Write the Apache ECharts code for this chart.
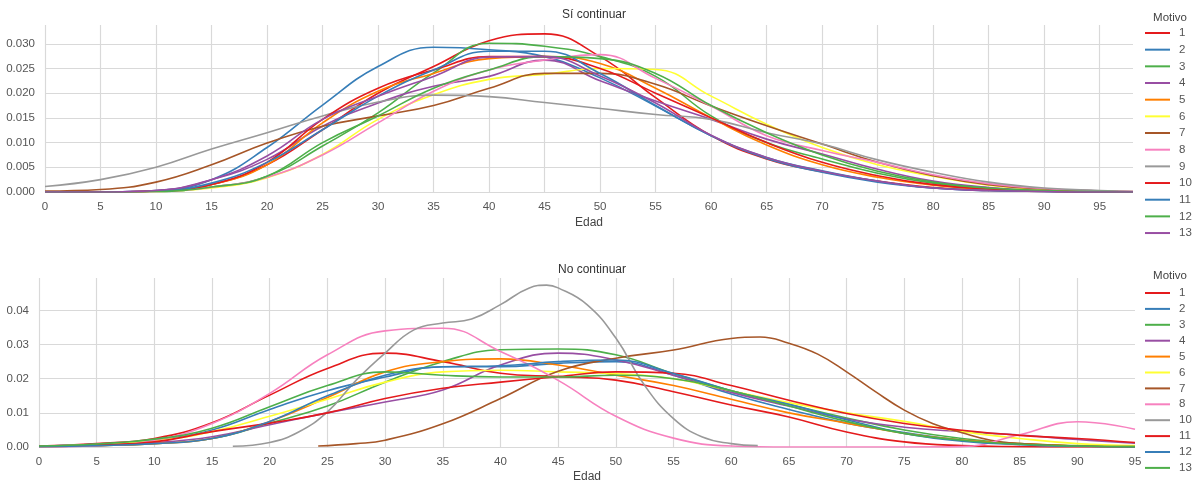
<!DOCTYPE html>
<html>
<head>
<meta charset="utf-8">
<title>Edad por motivo</title>
<script src="https://cdn.jsdelivr.net/npm/echarts@6/dist/echarts.min.js"></script>
<style>
  html, body { margin: 0; padding: 0; background: #fff; }
  #chart { width: 1193px; height: 487px; }
</style>
</head>
<body>
<div id="chart"></div>
<script>
// Set1 (seaborn)
const set1 = ['#e41a1c', '#377eb8', '#4daf4a', '#984ea3', '#ff7f00', '#ffff33', '#a65628', '#f781bf', '#999999'];

// ---- Sí continuar ----
const edadesSi = [0, 5, 10, 15, 20, 25, 30, 35, 40, 45, 50, 55, 60, 65, 70, 75, 80, 85, 90, 95, 98];
const motivosSi = ['1', '2', '3', '4', '5', '6', '7', '8', '9', '10', '11', '12', '13'];
const si1  = [0, 0, 0.0002, 0.0015, 0.0055, 0.0126, 0.0200, 0.0254, 0.0306, 0.0320, 0.0274, 0.0191, 0.0114, 0.0067, 0.0041, 0.0022, 0.0009, 0.0003, 0.0001, 0, 0];
const si2  = [0, 0, 0.0003, 0.0025, 0.0090, 0.0176, 0.0254, 0.0293, 0.0288, 0.0274, 0.0231, 0.0174, 0.0114, 0.0070, 0.0043, 0.0022, 0.0008, 0.0003, 0.0001, 0, 0];
const si3  = [0, 0, 0.0001, 0.0010, 0.0032, 0.0093, 0.0160, 0.0241, 0.0301, 0.0295, 0.0274, 0.0234, 0.0154, 0.0100, 0.0067, 0.0038, 0.0018, 0.0007, 0.0002, 0.0001, 0];
const si4  = [0, 0, 0.0003, 0.0025, 0.0066, 0.0133, 0.0180, 0.0214, 0.0234, 0.0267, 0.0225, 0.0184, 0.0147, 0.0107, 0.0077, 0.0046, 0.0022, 0.0009, 0.0003, 0.0001, 0];
const si5  = [0, 0, 0.0002, 0.0015, 0.0055, 0.0140, 0.0204, 0.0240, 0.0270, 0.0274, 0.0260, 0.0210, 0.0150, 0.0095, 0.0055, 0.0030, 0.0014, 0.0005, 0.0002, 0, 0];
const si6  = [0, 0, 0.0001, 0.0008, 0.0029, 0.0076, 0.0147, 0.0197, 0.0228, 0.0238, 0.0250, 0.0248, 0.0194, 0.0137, 0.0090, 0.0055, 0.0032, 0.0014, 0.0005, 0.0001, 0];
const si7  = [0.0002, 0.0005, 0.0020, 0.0055, 0.0099, 0.0133, 0.0154, 0.0175, 0.0210, 0.0240, 0.0240, 0.0218, 0.0174, 0.0134, 0.0097, 0.0060, 0.0033, 0.0015, 0.0006, 0.0002, 0.0001];
const si8  = [0, 0, 0.0001, 0.0010, 0.0030, 0.0075, 0.0140, 0.0204, 0.0247, 0.0267, 0.0278, 0.0230, 0.0174, 0.0114, 0.0084, 0.0060, 0.0035, 0.0017, 0.0007, 0.0002, 0.0001];
const si9  = [0.0011, 0.0025, 0.0050, 0.0087, 0.0120, 0.0154, 0.0182, 0.0196, 0.0193, 0.0181, 0.0169, 0.0157, 0.0147, 0.0120, 0.0097, 0.0065, 0.0040, 0.0020, 0.0008, 0.0003, 0.0001];
const si10 = [0, 0, 0.0002, 0.0015, 0.0060, 0.0147, 0.0210, 0.0247, 0.0274, 0.0274, 0.0250, 0.0200, 0.0150, 0.0100, 0.0060, 0.0033, 0.0015, 0.0006, 0.0002, 0, 0];
const si11 = [0, 0, 0.0002, 0.0018, 0.0060, 0.0126, 0.0194, 0.0247, 0.0285, 0.0285, 0.0240, 0.0175, 0.0114, 0.0068, 0.0040, 0.0020, 0.0008, 0.0003, 0.0001, 0, 0];
const si12 = [0, 0, 0.0001, 0.0010, 0.0032, 0.0100, 0.0154, 0.0210, 0.0247, 0.0274, 0.0270, 0.0240, 0.0175, 0.0120, 0.0075, 0.0042, 0.0020, 0.0008, 0.0003, 0.0001, 0];
const si13 = [0, 0, 0.0003, 0.0025, 0.0073, 0.0147, 0.0194, 0.0234, 0.0273, 0.0274, 0.0235, 0.0180, 0.0115, 0.0070, 0.0042, 0.0022, 0.0008, 0.0003, 0.0001, 0, 0];
const valoresSi = [si1, si2, si3, si4, si5, si6, si7, si8, si9, si10, si11, si12, si13];

// ---- No continuar ----
const edadesNo = [0, 5, 10, 15, 20, 25, 30, 35, 40, 45, 50, 55, 60, 65, 70, 75, 80, 85, 90, 95];
const motivosNo = ['1', '2', '3', '4', '5', '6', '7', '8', '10', '11', '12', '13'];
const no1  = [0.0003, 0.0010, 0.0025, 0.0071, 0.0152, 0.0230, 0.0275, 0.0250, 0.0216, 0.0206, 0.0196, 0.0162, 0.0123, 0.0088, 0.0044, 0.0015, 0.0004, 0.0001, 0, 0];
const no2  = [0.0003, 0.0008, 0.0020, 0.0050, 0.0110, 0.0165, 0.0205, 0.0235, 0.0235, 0.0245, 0.0250, 0.0210, 0.0155, 0.0110, 0.0070, 0.0042, 0.0020, 0.0009, 0.0003, 0.0001];
const no3  = [0.0001, 0.0004, 0.0010, 0.0025, 0.0070, 0.0120, 0.0190, 0.0250, 0.0285, 0.0287, 0.0270, 0.0215, 0.0165, 0.0125, 0.0085, 0.0050, 0.0025, 0.0010, 0.0004, 0.0001];
const no4  = [0.0001, 0.0004, 0.0012, 0.0030, 0.0065, 0.0100, 0.0132, 0.0167, 0.0240, 0.0275, 0.0255, 0.0210, 0.0160, 0.0120, 0.0082, 0.0058, 0.0045, 0.0035, 0.0022, 0.0011];
const no5  = [0.0001, 0.0004, 0.0010, 0.0025, 0.0075, 0.0145, 0.0220, 0.0250, 0.0258, 0.0240, 0.0210, 0.0180, 0.0140, 0.0100, 0.0070, 0.0040, 0.0020, 0.0010, 0.0003, 0.0001];
const no6  = [0.0002, 0.0007, 0.0018, 0.0045, 0.0090, 0.0140, 0.0190, 0.0220, 0.0225, 0.0220, 0.0215, 0.0200, 0.0165, 0.0130, 0.0100, 0.0075, 0.0045, 0.0025, 0.0010, 0.0004];
const no8  = [0.0001, 0.0004, 0.0020, 0.0069, 0.0157, 0.0270, 0.0340, 0.0348, 0.0280, 0.0195, 0.0090, 0.0026, 0.0003, 0, 0, 0, 0.0001, 0.0036, 0.0074, 0.0052];
const no11 = [0.0002, 0.0006, 0.0015, 0.0045, 0.0070, 0.0100, 0.0142, 0.0172, 0.0190, 0.0206, 0.0220, 0.0216, 0.0180, 0.0137, 0.0098, 0.0069, 0.0049, 0.0034, 0.0025, 0.0013];
const no12 = [0.0001, 0.0004, 0.0010, 0.0025, 0.0075, 0.0150, 0.0210, 0.0235, 0.0238, 0.0250, 0.0255, 0.0215, 0.0165, 0.0125, 0.0080, 0.0040, 0.0017, 0.0007, 0.0002, 0];
const no13 = [0.0003, 0.0009, 0.0023, 0.0055, 0.0118, 0.0180, 0.0220, 0.0210, 0.0205, 0.0205, 0.0210, 0.0200, 0.0165, 0.0120, 0.0075, 0.0040, 0.0020, 0.0008, 0.0003, 0.0001];
// 7 y 10 tienen su propio rango de edades
const edadesNo7 = [24.2, 27.5, 30, 35, 40, 45, 50, 55, 60, 62.5, 65, 67.5, 70, 72.5, 75, 77.5, 80, 82.5, 85, 90, 95];
const no7 = [0.0003, 0.0010, 0.0020, 0.0068, 0.0142, 0.0222, 0.0260, 0.0284, 0.0318, 0.0322, 0.0304, 0.0272, 0.0220, 0.0162, 0.0108, 0.0068, 0.0042, 0.0020, 0.0010, 0.0003, 0.0001];
const edadesNo10 = [16.8, 20, 22.5, 25, 27.5, 30, 32.5, 35, 37.5, 40, 42.5, 44, 45, 47.5, 50, 52.5, 55, 57.5, 60, 62.3];
const no10 = [0.0002, 0.0013, 0.0044, 0.0103, 0.0196, 0.0275, 0.0343, 0.0363, 0.0375, 0.0417, 0.0466, 0.0474, 0.0466, 0.0417, 0.0319, 0.0180, 0.0083, 0.0029, 0.0010, 0.0004];

const edadesPorMotivoNo = [edadesNo, edadesNo, edadesNo, edadesNo, edadesNo, edadesNo, edadesNo7, edadesNo, edadesNo10, edadesNo, edadesNo, edadesNo];
const valoresNo = [no1, no2, no3, no4, no5, no6, no7, no8, no10, no11, no12, no13];

const chart = echarts.init(document.getElementById('chart'));

const fuente = '"Liberation Sans", Arial, sans-serif';
const gris = '#d9d9d9';

const toPairs = (xs, ys) => xs.map((x, i) => [x, ys[i]]);

const makeSeries = (nombres, edades, valores, idx) => nombres.map((n, k) => ({
  id: (idx === 0 ? 'si-' : 'no-') + n,
  name: n,
  type: 'line',
  xAxisIndex: idx,
  yAxisIndex: idx,
  data: toPairs(Array.isArray(edades[0]) ? edades[k] : edades, valores[k]),
  smooth: 0.45,
  showSymbol: false,
  lineStyle: { width: 1.6, color: set1[k % 9] },
  itemStyle: { color: set1[k % 9] },
  silent: true
}));

const xAxisBase = (max) => ({
  type: 'value',
  min: 0,
  max: max,
  interval: 5,
  name: 'Edad',
  nameLocation: 'middle',
  nameTextStyle: { fontFamily: fuente, fontSize: 12, color: '#444' },
  axisLine: { show: false },
  axisTick: { show: false },
  axisLabel: {
    fontFamily: fuente, fontSize: 11.5, color: '#555', margin: 9,
    formatter: (v) => (v % 5 === 0 ? String(v) : '')
  },
  splitLine: { show: true, showMaxLine: false, lineStyle: { color: gris, width: 1.2 } }
});

const yAxisBase = (max, interval, dec) => ({
  type: 'value',
  min: 0,
  max: max,
  interval: interval,
  axisLine: { show: false },
  axisTick: { show: false },
  axisLabel: {
    fontFamily: fuente, fontSize: 11.5, color: '#555', margin: 10,
    formatter: (v) => (Math.abs(v / interval - Math.round(v / interval)) < 1e-6 ? v.toFixed(dec) : '')
  },
  splitLine: { show: true, showMaxLine: false, lineStyle: { color: gris, width: 1.2 } }
});

// leyenda vertical: cada entrada con su color
const legendBase = (nombres, top, gap) => ({
  data: nombres.map((n, k) => ({ name: n, itemStyle: { color: set1[k % 9] } })),
  orient: 'vertical',
  left: 1145,
  top: top,
  padding: 0,
  itemWidth: 25,
  itemHeight: 2,
  itemGap: gap,
  icon: 'rect',
  selectedMode: false,
  textStyle: { fontFamily: fuente, fontSize: 11.5, color: '#555', lineHeight: 14, padding: [0, 0, 0, 4] }
});

const option = {
  animation: false,
  backgroundColor: '#fff',
  title: [
    { text: 'Sí continuar', left: 589, top: 4, textAlign: 'center', textStyle: { fontFamily: fuente, fontSize: 12, fontWeight: 'normal', color: '#333' } },
    { text: 'No continuar', left: 587, top: 259, textAlign: 'center', textStyle: { fontFamily: fuente, fontSize: 12, fontWeight: 'normal', color: '#333' } },
    { text: 'Motivo', left: 1165, top: 7, textAlign: 'center', textStyle: { fontFamily: fuente, fontSize: 11.5, fontWeight: 'normal', color: '#444' } },
    { text: 'Motivo', left: 1165, top: 265, textAlign: 'center', textStyle: { fontFamily: fuente, fontSize: 11.5, fontWeight: 'normal', color: '#444' } }
  ],
  legend: [
    legendBase(motivosSi, 26, 2.67),
    legendBase(motivosNo, 286, 1.9)
  ],
  grid: [
    { left: 45, right: 60, top: 25, height: 167 },
    { left: 39, right: 58, top: 278, height: 169 }
  ],
  xAxis: [
    Object.assign(xAxisBase(98), { gridIndex: 0, nameGap: 25 }),
    Object.assign(xAxisBase(95), { gridIndex: 1, nameGap: 24 })
  ],
  yAxis: [
    Object.assign(yAxisBase(0.0338, 0.005, 3), { gridIndex: 0 }),
    Object.assign(yAxisBase(0.0495, 0.01, 2), { gridIndex: 1 })
  ],
  series: makeSeries(motivosSi, edadesSi, valoresSi, 0)
    .concat(makeSeries(motivosNo, edadesPorMotivoNo, valoresNo, 1))
};

chart.setOption(option);
</script>
</body>
</html>
